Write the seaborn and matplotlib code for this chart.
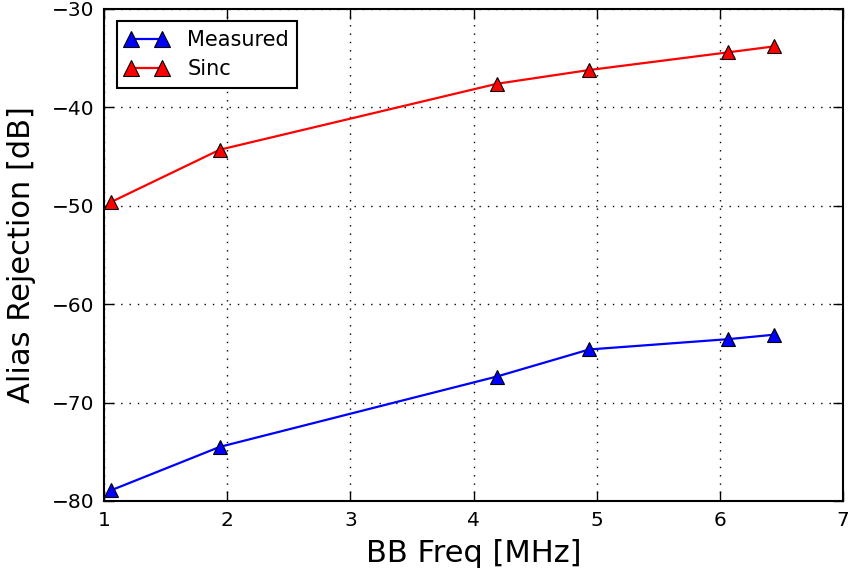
import pandas as pd
import matplotlib
matplotlib.use("Agg")
import matplotlib.pyplot as plt
import seaborn as sns

# values
freq_mhz = [1.06, 1.94, 4.19, 4.94, 6.07, 6.44]
measured_db = [-78.9, -74.5, -67.35, -64.6, -63.55, -63.1]
sinc_db = [-49.6, -44.3, -37.6, -36.2, -34.4, -33.8]
series = ["Measured", "Sinc"]
colors = ["blue", "red"]

df = pd.concat([
    pd.DataFrame({"freq": freq_mhz, "rej": measured_db, "series": series[0]}),
    pd.DataFrame({"freq": freq_mhz, "rej": sinc_db, "series": series[1]}),
], ignore_index=True)

sns.set_style("ticks")
plt.rcParams["font.family"] = ["DejaVu Sans"]
plt.rcParams["xtick.direction"] = "in"
plt.rcParams["ytick.direction"] = "in"
for k in ["text.color", "axes.labelcolor", "xtick.color", "ytick.color"]:
    plt.rcParams[k] = "black"

fig = plt.figure(figsize=(8.5, 5.71), dpi=100)
ax = fig.add_axes([104 / 850, 1 - 501 / 571, 739 / 850, 492 / 571])

sns.lineplot(data=df, x="freq", y="rej", hue="series", palette=colors,
             marker="^", markersize=10, markeredgecolor="black",
             markeredgewidth=0.8, linewidth=1.6, ax=ax, legend=True)

ax.set_xlim(1, 7)
ax.set_ylim(-80, -30)
ax.set_xticks(range(1, 8))
ax.set_yticks(range(-80, -29, 10))
ax.grid(True, color="black", linestyle=(0, (1, 5)), linewidth=1.0)
ax.tick_params(labelsize=14.5, length=7, width=1, top=True, right=True,
               pad=7)
for s in ax.spines.values():
    s.set_linewidth(1.5)
    s.set_color("black")
ax.set_xlabel("BB Freq [MHz]", fontsize=22, labelpad=7)
ax.set_ylabel("Alias Rejection [dB]", fontsize=22, labelpad=11)

handles, labels = ax.get_legend_handles_labels()
leg = ax.legend(handles, labels, loc="upper left", numpoints=2, fontsize=15,
                fancybox=False, frameon=True, edgecolor="black",
                framealpha=1, handlelength=2.1, borderaxespad=0.6,
                labelspacing=0.45, handletextpad=0.9, markerscale=1.1)
leg.get_frame().set_linewidth(1.5)

fig.savefig("out.png", dpi=100)
